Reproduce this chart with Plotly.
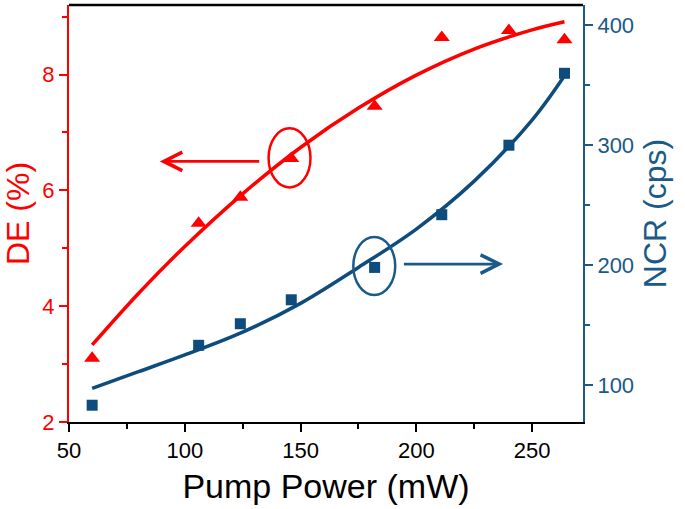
import plotly.graph_objects as go

# Measured data
pump_power = [60, 106, 124, 146, 182, 211, 240, 264]
de_percent = [3.10, 5.43, 5.88, 6.55, 7.45, 8.64, 8.76, 8.60]
ncr_cps = [83, 133, 151, 171, 198, 242, 300, 360]

# Fit curves
fit_x = [60, 80, 100, 125, 150, 175, 200, 225, 250, 264]
de_fit = [3.33, 4.22, 5.03, 5.94, 6.74, 7.42, 7.99, 8.44, 8.77, 8.91]
ncr_fit = [97, 111, 125, 144, 168, 198, 230, 270, 321, 358]

RED = "#FF0000"
BLUE = "#0D4C7C"
BLUE_AX = "#1A5A88"
FONT = "Liberation Sans, Arial, sans-serif"

fig = go.Figure()
fig.add_trace(go.Scatter(x=fit_x, y=de_fit, mode="lines", line=dict(color=RED, width=3.5, shape="spline"),
                         showlegend=False, hoverinfo="skip"))
fig.add_trace(go.Scatter(x=pump_power, y=de_percent, mode="markers",
                         marker=dict(symbol="triangle-up", size=14, color=RED), showlegend=False))
fig.add_trace(go.Scatter(x=fit_x, y=ncr_fit, mode="lines", line=dict(color=BLUE, width=3.5, shape="spline"),
                         yaxis="y2", showlegend=False, hoverinfo="skip"))
fig.add_trace(go.Scatter(x=pump_power, y=ncr_cps, mode="markers", yaxis="y2",
                         marker=dict(symbol="square", size=11, color=BLUE), showlegend=False))

# Ellipses
fig.add_shape(type="circle", xref="x", yref="y", x0=136.2, x1=154.3, y0=6.05, y1=7.07,
              line=dict(color=RED, width=2.5))
fig.add_shape(type="circle", xref="x", yref="y2", x0=172.8, x1=190.9, y0=175, y1=223.3,
              line=dict(color=BLUE_AX, width=2.5))

# Arrows
fig.add_annotation(x=89.2, y=6.5, ax=132.8, ay=6.5, xref="x", yref="y", axref="x", ayref="y",
                   text="", showarrow=True, arrowhead=5, arrowsize=1.3, arrowwidth=2.8, arrowcolor=RED)
fig.add_annotation(x=237.5, y=200.8, ax=194, ay=200.8, xref="x", yref="y2", axref="x", ayref="y2",
                   text="", showarrow=True, arrowhead=5, arrowsize=1.3, arrowwidth=2.8, arrowcolor=BLUE_AX)

fig.update_layout(
    width=685, height=509,
    margin=dict(l=69, r=102, t=5, b=87),
    plot_bgcolor="white", paper_bgcolor="white",
    font=dict(family=FONT),
    xaxis=dict(range=[50, 272], dtick=50, tick0=50, ticks="outside", ticklen=8, tickwidth=2,
               tickcolor="black", showline=True, linecolor="black", linewidth=2, mirror=False,
               showgrid=False, zeroline=False,
               minor=dict(dtick=25, ticks="outside", ticklen=5, tickwidth=2, tickcolor="black"),
               tickfont=dict(size=22, color="black", family=FONT),
               title=dict(text="Pump Power (mW)", font=dict(size=34, color="black", family=FONT), standoff=12)),
    yaxis=dict(range=[2, 9.2], dtick=2, tick0=2, ticks="outside", ticklen=8, tickwidth=2,
               tickcolor=RED, showline=True, linecolor=RED, linewidth=2,
               showgrid=False, zeroline=False,
               minor=dict(dtick=1, ticks="outside", ticklen=5, tickwidth=2, tickcolor=RED),
               tickfont=dict(size=22, color=RED, family=FONT),
               title=dict(text="DE (%)", font=dict(size=32, color=RED, family=FONT), standoff=10)),
    yaxis2=dict(range=[69, 417], dtick=100, tick0=100, overlaying="y", side="right",
                ticks="outside", ticklen=8, tickwidth=2, tickcolor=BLUE_AX,
                showline=True, linecolor=BLUE_AX, linewidth=2, showgrid=False, zeroline=False,
                minor=dict(dtick=50, ticks="outside", ticklen=5, tickwidth=2, tickcolor=BLUE_AX),
                tickfont=dict(size=22, color=BLUE_AX, family=FONT),
                title=dict(text="NCR (cps)", font=dict(size=32, color=BLUE_AX, family=FONT), standoff=10)),
)
# top border
fig.add_shape(type="line", xref="paper", yref="paper", x0=0, x1=1, y0=1, y1=1,
              line=dict(color="black", width=2.5))

fig.write_html("out.html", post_script="document.body.style.margin='0';",
               config={"displayModeBar": False})
